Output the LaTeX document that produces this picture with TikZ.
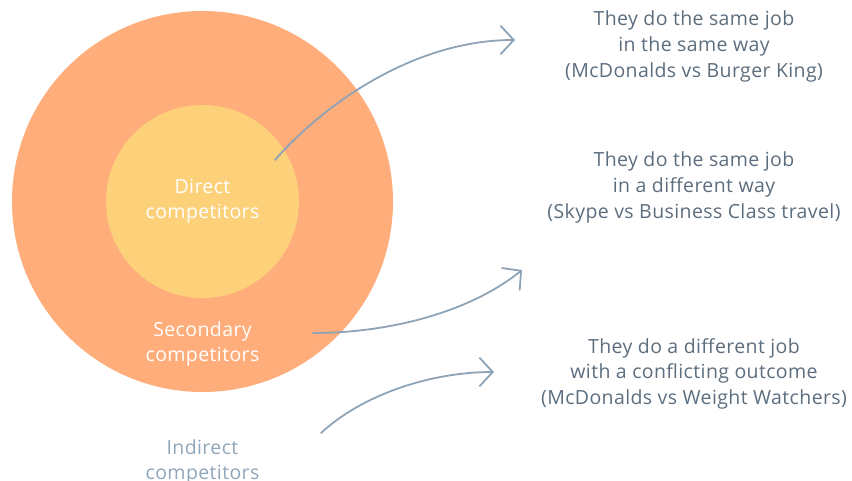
\documentclass[tikz,border=0pt]{standalone}
\usepackage{fontspec}
\setmainfont{Open Sans}[LetterSpace=2]
\usetikzlibrary{arrows.meta}
\definecolor{outerc}{HTML}{FFAD7A}
\definecolor{innerc}{HTML}{FDD17A}
\definecolor{arrc}{HTML}{8EA3B5}
\definecolor{txtc}{HTML}{5C6D7E}
\definecolor{indc}{HTML}{8FA6BA}
\tikzset{
  disc/.style={circle, inner sep=0pt, draw=none},
  conn/.style={draw=arrc, line width=1.8pt, line cap=round, -{Straight Barb[length=13pt,width=28pt,line cap=round]}},
  desc/.style={text=txtc, align=center, anchor=base, inner sep=0pt, font=\fontsize{19.5}{25.7}\selectfont},
  inlab/.style={text=white, align=center, anchor=base, inner sep=0pt, font=\fontsize{19.5}{24.3}\selectfont},
  indlab/.style={text=indc, align=center, anchor=base, inner sep=0pt, font=\fontsize{19.5}{24.5}\selectfont}
}
\begin{document}
\begin{tikzpicture}[x=1pt,y=-1pt]
\useasboundingbox (0,0) rectangle (852,481);
\node[disc, fill=outerc, minimum size=381pt] (outer) at (202.5,201.5) {};
\node[disc, fill=innerc, minimum size=193pt] (inner) at (202.5,201.5) {};
\node[inlab] (direct) at (202.5,218.3) {Direct\\competitors};
\node[inlab] (secondary) at (202.5,361) {Secondary\\competitors};
\node[indlab] (indirect) at (202.5,479) {Indirect\\competitors};
\node[desc] (d1) at (694,77.4) {They do the same job\\in the same way\\(McDonalds vs Burger King)};
\node[desc] (d2) at (694,218.4) {They do the same job\\in a different way\\(Skype vs Business Class travel)};
\node[desc] (d3) at (694,404.4) {They do a different job\\with a conflicting outcome\\(McDonalds vs Weight Watchers)};
\coordinate (s1) at (275,160);
\coordinate (e1) at (515,40);
\coordinate (s2) at (313,333);
\coordinate (e2) at (522,270);
\coordinate (s3) at (321,433);
\coordinate (e3) at (494,372);
\draw[conn] (s1) .. controls (325,103) and (415,40) .. (e1);
\draw[conn] (s2) .. controls (390,333) and (470,312) .. (e2);
\draw[conn] (s3) .. controls (362,395) and (430,372) .. (e3);
\end{tikzpicture}
\end{document}
